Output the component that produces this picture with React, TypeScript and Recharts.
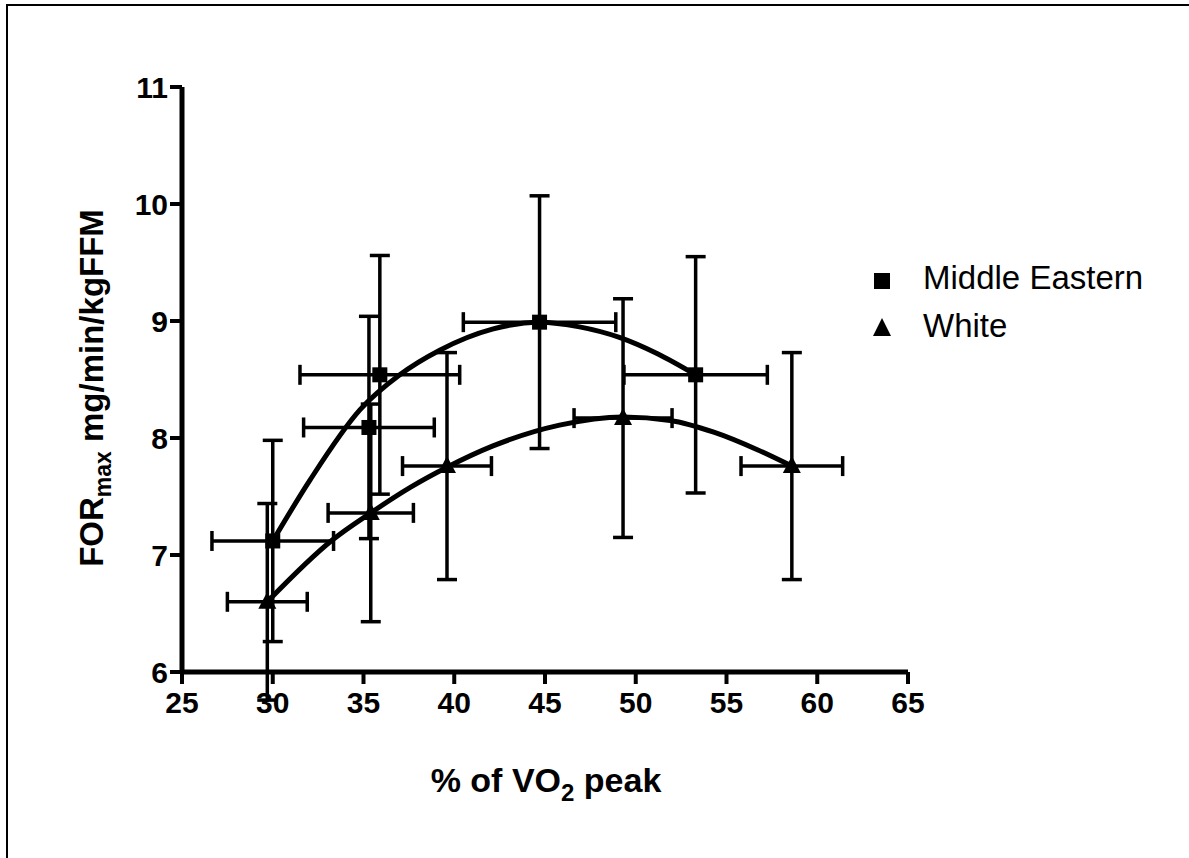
import React from 'react'
import {
  ComposedChart,
  Scatter,
  Line,
  XAxis,
  YAxis,
  ErrorBar,
  Legend,
} from 'recharts'

// % of VO2 peak vs FORmax
const meX = [30.0, 35.3, 35.9, 44.7, 53.3]
const meY = [7.12, 8.09, 8.54, 8.99, 8.54]
const meErrX = [3.35, 3.6, 4.4, 4.2, 3.95]
const meErrY = [0.86, 0.95, 1.02, 1.08, 1.01]

const whX = [29.7, 35.4, 39.6, 49.3, 58.6]
const whY = [6.6, 7.36, 7.76, 8.17, 7.76]
const whErrX = [2.2, 2.35, 2.45, 2.7, 2.8]
const whErrY = [0.84, 0.93, 0.97, 1.02, 0.97]

// fitted curves
const meCurveX = [30.0, 32.05, 34.8, 37.0, 39.2, 42.1, 44.7, 46.9, 49.1, 51.2, 53.3]
const meCurveY = [7.12, 7.64, 8.24, 8.54, 8.75, 8.93, 8.99, 8.95, 8.86, 8.72, 8.54]
const whCurveX = [29.7, 33.3, 35.4, 37.6, 39.6, 42.1, 45.8, 49.3, 51.9, 54.3, 56.7, 58.6]
const whCurveY = [6.6, 7.13, 7.36, 7.58, 7.75, 7.93, 8.11, 8.18, 8.15, 8.05, 7.9, 7.76]

const xTicks = [25, 30, 35, 40, 45, 50, 55, 60, 65]
const yTicks = [6, 7, 8, 9, 10, 11]
const seriesNames = ['Middle Eastern', 'White']

const FONT = '"Liberation Sans", Arial, Helvetica, sans-serif'

const meData = meX.map((x, i) => ({ x, y: meY[i], ex: meErrX[i], ey: meErrY[i] }))
const whData = whX.map((x, i) => ({ x, y: whY[i], ex: whErrX[i], ey: whErrY[i] }))
const meCurve = meCurveX.map((x, i) => ({ x, y: meCurveY[i] }))
const whCurve = whCurveX.map((x, i) => ({ x, y: whCurveY[i] }))

const SquareDot = (p: any) => (
  <rect x={p.cx - 7.5} y={p.cy - 7.5} width={15} height={15} fill="#000" />
)

const TriangleDot = (p: any) => (
  <polygon
    points={`${p.cx},${p.cy - 10} ${p.cx - 9},${p.cy + 7} ${p.cx + 9},${p.cy + 7}`}
    fill="#000"
  />
)

const LegendBox = () => (
  <svg width={320} height={100} style={{ display: 'block' }}>
    <rect x={14} y={18} width={16} height={16} fill="#000" />
    <text x={63} y={34} fontSize={33} fontFamily={FONT} fill="#000">
      {seriesNames[0]}
    </text>
    <polygon points="22,63 13,81 31,81" fill="#000" />
    <text x={63} y={82} fontSize={33} fontFamily={FONT} fill="#000">
      {seriesNames[1]}
    </text>
  </svg>
)

const YTitle = () => (
  <text
    x={103}
    y={388}
    transform="rotate(-90, 103, 388)"
    textAnchor="middle"
    fontSize={33}
    fontWeight="bold"
    fontFamily={FONT}
    fill="#000"
  >
    FOR
    <tspan fontSize={23} dy={8}>max</tspan>
    <tspan dy={-8}> mg/min/kgFFM</tspan>
  </text>
)

const XTitle = () => (
  <text
    x={546}
    y={792}
    textAnchor="middle"
    fontSize={34}
    fontWeight="bold"
    fontFamily={FONT}
    fill="#000"
  >
    % of VO
    <tspan fontSize={24} dy={9}>2</tspan>
    <tspan dy={-9}> peak</tspan>
  </text>
)

export default function App() {
  const tickStyle = { fontSize: 30, fontWeight: 'bold', fill: '#000', fontFamily: FONT }
  return (
    <div
      style={{
        position: 'absolute',
        left: 0,
        top: 0,
        width: 1189,
        height: 858,
        background: '#fff',
        overflow: 'hidden',
      }}
    >
      <div
        style={{
          position: 'absolute',
          left: 6,
          top: 4,
          width: 1300,
          height: 1000,
          borderLeft: '2px solid #000',
          borderTop: '2px solid #000',
        }}
      />
      <ComposedChart
        width={1189}
        height={858}
        margin={{ top: 87, right: 281, bottom: 126, left: 122 }}
        style={{ position: 'absolute', left: 0, top: 0 }}
      >
        <XAxis
          type="number"
          dataKey="x"
          domain={[25, 65]}
          ticks={xTicks}
          interval={0}
          height={60}
          allowDataOverflow
          axisLine={{ stroke: '#000', strokeWidth: 5 }}
          tickLine={{ stroke: '#000', strokeWidth: 4 }}
          tickSize={12}
          tickMargin={8}
          tick={tickStyle}
          label={{ content: () => <XTitle /> }}
        />
        <YAxis
          type="number"
          dataKey="y"
          domain={[6, 11]}
          ticks={yTicks}
          interval={0}
          width={60}
          allowDataOverflow
          axisLine={{ stroke: '#000', strokeWidth: 5 }}
          tickLine={{ stroke: '#000', strokeWidth: 4 }}
          tickSize={12}
          tickMargin={2}
          tick={tickStyle}
          label={{ content: () => <YTitle /> }}
        />
        <Line
          data={meCurve}
          dataKey="y"
          type="monotone"
          stroke="#000"
          strokeWidth={5}
          dot={false}
          activeDot={false}
          isAnimationActive={false}
          legendType="none"
        />
        <Line
          data={whCurve}
          dataKey="y"
          type="monotone"
          stroke="#000"
          strokeWidth={5}
          dot={false}
          activeDot={false}
          isAnimationActive={false}
          legendType="none"
        />
        <Scatter
          name={seriesNames[0]}
          data={meData}
          fill="#000"
          shape={SquareDot}
          isAnimationActive={false}
        >
          <ErrorBar dataKey="ey" direction="y" width={10} stroke="#000" strokeWidth={3.5} />
          <ErrorBar dataKey="ex" direction="x" width={10} stroke="#000" strokeWidth={3.5} />
        </Scatter>
        <Scatter
          name={seriesNames[1]}
          data={whData}
          fill="#000"
          shape={TriangleDot}
          isAnimationActive={false}
        >
          <ErrorBar dataKey="ey" direction="y" width={10} stroke="#000" strokeWidth={3.5} />
          <ErrorBar dataKey="ex" direction="x" width={10} stroke="#000" strokeWidth={3.5} />
        </Scatter>
        <Legend
          content={() => <LegendBox />}
          wrapperStyle={{
            position: 'absolute',
            left: 860,
            top: 255,
            width: 0,
            height: 0,
            overflow: 'visible',
          }}
        />
      </ComposedChart>
    </div>
  )
}
